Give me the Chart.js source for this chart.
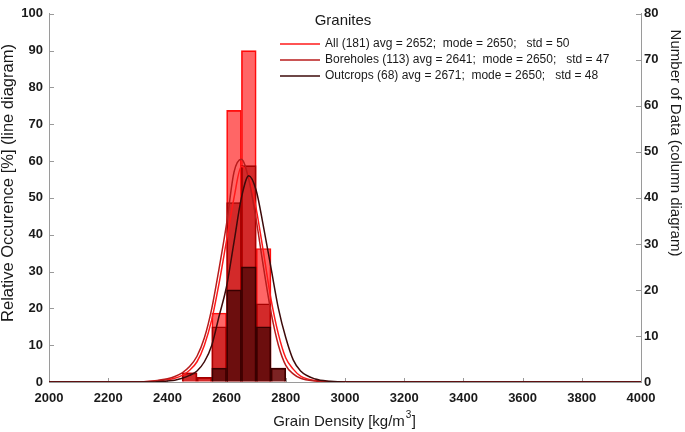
<!DOCTYPE html>
<html>
<head>
<meta charset="utf-8">
<script src="https://cdn.jsdelivr.net/npm/chart.js@4.4.1/dist/chart.umd.min.js"></script>
<style>
  html, body { margin: 0; padding: 0; background: #fff; }
</style>
</head>
<body>
<canvas id="grafica" width="685" height="432"></canvas>
<script>
// --- datos ---
const legendTitle = 'Granites';
const seriesNames = ['All', 'Boreholes', 'Outcrops'];
const legendTexts = [
  'All (181) avg = 2652;  mode = 2650;   std = 50',
  'Boreholes (113) avg = 2641;  mode = 2650;   std = 47',
  'Outcrops (68) avg = 2671;  mode = 2650;   std = 48'
];

// columnas (eje derecho, numero de datos), centro de cada clase de 50 kg/m3
const binCenters = [2475, 2525, 2575, 2625, 2675, 2725, 2775];
const allCounts = [2, 1, 15, 59, 72, 29, 3];
const boreCounts = [2, 1, 12, 39, 47, 17, 0];
const outCounts = [0, 0, 3, 20, 25, 12, 3];

// curvas (eje izquierdo, %)
const curveX = [2000, 2300, 2350, 2400, 2425, 2450, 2475, 2500, 2525, 2550, 2575, 2600, 2625,
                2650, 2675, 2700, 2725, 2750, 2775, 2800, 2825, 2850, 2900, 2950, 3000, 4000];
const allPct = [0, 0, 0.2, 0.6, 1.0, 1.8, 3.2, 5.5, 10, 17, 27, 38.5, 50,
                58.5, 56, 47, 35, 22.5, 13, 6.5, 3.5, 1.6, 0.4, 0.1, 0, 0];
const borePct = [0, 0, 0.3, 0.9, 1.5, 2.5, 4.2, 7, 12, 20, 31, 43, 57,
                 60.5, 55, 44, 31, 19, 10, 4.5, 2.2, 1, 0.25, 0.05, 0, 0];
const outPct = [0, 0, 0, 0.3, 0.5, 1, 1.8, 3, 5.5, 10, 18, 26, 38,
                50, 56, 52, 42, 31, 20, 12, 6, 3, 0.8, 0.2, 0, 0];

const xTicks = [2000, 2200, 2400, 2600, 2800, 3000, 3200, 3400, 3600, 3800, 4000];
const leftTicks = [0, 10, 20, 30, 40, 50, 60, 70, 80, 90, 100];
const rightTicks = [0, 10, 20, 30, 40, 50, 60, 70, 80];

const lineColors = ['#ff1a1a', '#b81c1c', '#3d0a0a'];
const axisGray = '#9a9a9a';
const fontFam = "'Liberation Sans', Arial, sans-serif";

Chart.defaults.font.family = fontFam;
Chart.defaults.color = '#1a1a1a';

function pares(xs, ys) {
  return xs.map((x, i) => ({ x: x, y: ys[i] }));
}

// marcas de los ejes hacia dentro
const marcasDentro = {
  id: 'marcasDentro',
  beforeDatasetsDraw(chart) {
    const { ctx, chartArea: a } = chart;
    const { x, y, y2 } = chart.scales;
    ctx.save();
    ctx.strokeStyle = axisGray;
    ctx.lineWidth = 1;
    ctx.beginPath();
    xTicks.forEach(v => {
      const px = Math.round(x.getPixelForValue(v)) + 0.5;
      ctx.moveTo(px, a.bottom); ctx.lineTo(px, a.bottom - 4);
    });
    leftTicks.forEach(v => {
      const py = Math.round(y.getPixelForValue(v)) + 0.5;
      ctx.moveTo(a.left, py); ctx.lineTo(a.left + 5, py);
    });
    rightTicks.forEach(v => {
      const py = Math.round(y2.getPixelForValue(v)) + 0.5;
      ctx.moveTo(a.right, py); ctx.lineTo(a.right - 5, py);
    });
    ctx.stroke();
    ctx.restore();
  }
};

// leyenda y titulos de ejes
const textos = {
  id: 'textos',
  afterDraw(chart) {
    const { ctx, chartArea: a } = chart;
    ctx.save();
    ctx.fillStyle = '#1a1a1a';

    ctx.font = '15px ' + fontFam;
    ctx.textAlign = 'center';
    ctx.textBaseline = 'middle';
    ctx.fillText(legendTitle, 343, 21);

    ctx.font = '12px ' + fontFam;
    ctx.textAlign = 'left';
    legendTexts.forEach((t, i) => {
      const yy = 44 + i * 16;
      ctx.strokeStyle = lineColors[i];
      ctx.lineWidth = 1.5;
      ctx.beginPath(); ctx.moveTo(280, yy); ctx.lineTo(320, yy); ctx.stroke();
      ctx.fillText(t, 325, yy);
    });

    // titulo eje x con superindice
    ctx.font = '15px ' + fontFam;
    const base = 'Grain Density [kg/m';
    const w = ctx.measureText(base).width;
    const x0 = (a.left + a.right) / 2 - (w + 12) / 2;
    ctx.textAlign = 'left';
    ctx.fillText(base, x0, 422);
    ctx.font = '10px ' + fontFam;
    ctx.fillText('3', x0 + w + 1, 415);
    ctx.font = '15px ' + fontFam;
    ctx.fillText(']', x0 + w + 7, 422);

    ctx.textAlign = 'center';
    ctx.save();
    ctx.font = '16.5px ' + fontFam;
    ctx.translate(8, 183);
    ctx.rotate(-Math.PI / 2);
    ctx.fillText('Relative Occurence [%] (line diagram)', 0, 0);
    ctx.restore();

    ctx.save();
    ctx.font = '15px ' + fontFam;
    ctx.translate(675, 143);
    ctx.rotate(Math.PI / 2);
    ctx.fillText('Number of Data (column diagram)', 0, 0);
    ctx.restore();

    ctx.restore();
  }
};

const barCommon = { type: 'bar', yAxisID: 'y2', grouped: false, barPercentage: 1, categoryPercentage: 1, borderWidth: 1 };
const lineCommon = { type: 'line', yAxisID: 'y', borderWidth: 1.5, pointRadius: 0, fill: false, cubicInterpolationMode: 'monotone' };
const tickFont = { size: 13, weight: 'bold' };

new Chart(document.getElementById('grafica'), {
  type: 'bar',
  data: {
    datasets: [
      { ...barCommon, label: seriesNames[0], data: pares(binCenters, allCounts), backgroundColor: 'rgba(255,0,0,0.6)', borderColor: '#ff1010', order: 5 },
      { ...barCommon, label: seriesNames[1], data: pares(binCenters, boreCounts), backgroundColor: 'rgba(180,0,0,0.59)', borderColor: '#a00000', order: 4 },
      { ...barCommon, label: seriesNames[2], data: pares(binCenters, outCounts), backgroundColor: 'rgba(55,0,0,0.66)', borderColor: '#3a0000', order: 3 },
      { ...lineCommon, label: seriesNames[0], data: pares(curveX, allPct), borderColor: lineColors[0], order: 2 },
      { ...lineCommon, label: seriesNames[1], data: pares(curveX, borePct), borderColor: lineColors[1], order: 1 },
      { ...lineCommon, label: seriesNames[2], data: pares(curveX, outPct), borderColor: lineColors[2], order: 0 }
    ]
  },
  options: {
    responsive: false,
    animation: false,
    devicePixelRatio: 1,
    layout: { padding: { top: 7 } },
    plugins: { legend: { display: false }, tooltip: { enabled: false } },
    scales: {
      x: {
        type: 'linear', position: 'bottom', min: 2000, max: 4000, offset: false,
        afterFit: s => { s.height = 50; },
        afterBuildTicks: s => { s.ticks = xTicks.map(v => ({ value: v })); },
        ticks: { font: tickFont, padding: 9, maxRotation: 0, autoSkip: false, callback: v => String(v) },
        grid: { drawOnChartArea: false, drawTicks: false, offset: false },
        border: { color: axisGray }
      },
      y: {
        type: 'linear', position: 'left', min: 0, max: 100,
        afterFit: s => { s.width = 49; },
        afterBuildTicks: s => { s.ticks = leftTicks.map(v => ({ value: v })); },
        ticks: { font: tickFont, padding: 6, callback: v => String(v) },
        grid: { drawOnChartArea: false, drawTicks: false },
        border: { color: axisGray }
      },
      y2: {
        type: 'linear', position: 'right', min: 0, max: 80,
        afterFit: s => { s.width = 44; },
        afterBuildTicks: s => { s.ticks = rightTicks.map(v => ({ value: v })); },
        ticks: { font: tickFont, padding: 3, callback: v => String(v) },
        grid: { drawOnChartArea: false, drawTicks: false },
        border: { color: axisGray }
      }
    }
  },
  plugins: [marcasDentro, textos]
});
</script>
</body>
</html>
